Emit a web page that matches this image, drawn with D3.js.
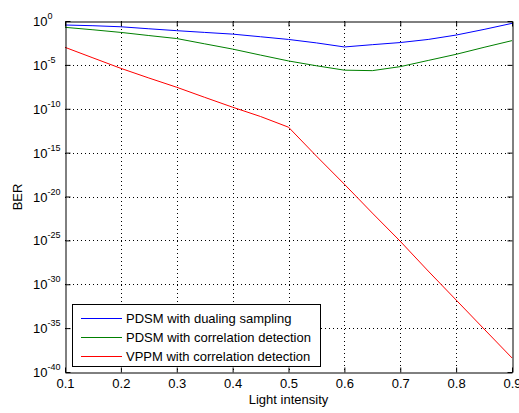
<!DOCTYPE html>
<html>
<head>
<meta charset="utf-8">
<script src="https://cdn.jsdelivr.net/npm/d3@7"></script>
<style>
body { margin: 0; background: #fff; }
text { font-family: "Liberation Sans", Arial, sans-serif; fill: #000; }
</style>
</head>
<body>
<div id="chart"></div>
<script>
var intensity = [0.1, 0.15, 0.2, 0.25, 0.3, 0.35, 0.4, 0.45, 0.5, 0.55, 0.6, 0.65, 0.7, 0.75, 0.8, 0.85, 0.9];
var berDualing = [3.5e-1, 2.9e-1, 2.2e-1, 1.3e-1, 7.9e-2, 5.0e-2, 3.2e-2, 1.6e-2, 7.9e-3, 3.2e-3, 1.1e-3, 2.0e-3, 3.5e-3, 7.9e-3, 2.5e-2, 1.1e-1, 5.4e-1];
var berCorr = [1.9e-1, 1.0e-1, 5.0e-2, 2.2e-2, 1.0e-2, 2.5e-3, 6.3e-4, 1.3e-4, 2.8e-5, 7.9e-6, 2.5e-6, 2.2e-6, 6.3e-6, 3.2e-5, 1.6e-4, 1.0e-3, 5.8e-3];
var berVppm = [1.0e-3, 6.3e-5, 4.0e-6, 3.2e-7, 2.8e-8, 2.0e-9, 1.5e-10, 1.3e-11, 7.9e-13, 4.0e-16, 2.5e-19, 1.3e-22, 7.9e-26, 3.2e-29, 1.6e-32, 7.9e-36, 4.0e-39];
var seriesNames = ["PDSM with dualing sampling", "PDSM with correlation detection", "VPPM with correlation detection"];
var seriesColors = ["#0000ff", "#008000", "#ff0000"];
var xTicks = [0.1, 0.2, 0.3, 0.4, 0.5, 0.6, 0.7, 0.8, 0.9];
var yTickExp = [0, -5, -10, -15, -20, -25, -30, -35, -40];

var W = 519, H = 413;
var pLeft = 65, pTop = 21, pRight = 512, pBottom = 372;

var svg = d3.select("#chart").append("svg")
	.attr("width", W)
	.attr("height", H);

var x = d3.scaleLinear().domain([0.1, 0.9]).range([pLeft, pRight]);
var y = d3.scaleLog().domain([1e-40, 1]).range([pBottom, pTop]);

// grid
xTicks.slice(1, -1).forEach(function(t) {
	var xx = Math.round(x(t)) + 0.5;
	svg.append("line")
		.attr("x1", xx).attr("x2", xx)
		.attr("y1", pTop).attr("y2", pBottom)
		.style("stroke", "#000").style("stroke-width", 1)
		.style("stroke-dasharray", "1,3");
});
yTickExp.slice(1, -1).forEach(function(e) {
	var yy = Math.round(y(Math.pow(10, e))) + 0.5;
	svg.append("line")
		.attr("x1", pLeft).attr("x2", pRight)
		.attr("y1", yy).attr("y2", yy)
		.style("stroke", "#000").style("stroke-width", 1)
		.style("stroke-dasharray", "1,3");
});

// curves
var allSeries = [berDualing, berCorr, berVppm];
var line = d3.line()
	.x(function(d) { return x(d[0]); })
	.y(function(d) { return y(d[1]); });
allSeries.forEach(function(s, i) {
	svg.append("path")
		.datum(intensity.map(function(v, j) { return [v, s[j]]; }))
		.attr("d", line)
		.style("fill", "none")
		.style("stroke", seriesColors[i])
		.style("stroke-width", 1);
});

// axes (box with inner ticks on all sides)
var yVals = yTickExp.map(function(e) { return Math.pow(10, e); });
var gB = svg.append("g").attr("transform", "translate(0," + (pBottom + 0.5) + ")")
	.call(d3.axisBottom(x).tickValues(xTicks).tickSizeInner(-5).tickSizeOuter(0).tickPadding(6)
		.tickFormat(d3.format(".1f")));
var gT = svg.append("g").attr("transform", "translate(0," + (pTop + 0.5) + ")")
	.call(d3.axisTop(x).tickValues(xTicks).tickSizeInner(-5).tickSizeOuter(0).tickFormat(""));
var gL = svg.append("g").attr("transform", "translate(" + (pLeft + 0.5) + ",0)")
	.call(d3.axisLeft(y).tickValues(yVals).tickSizeInner(-5).tickSizeOuter(0).tickFormat(""));
var gR = svg.append("g").attr("transform", "translate(" + (pRight + 0.5) + ",0)")
	.call(d3.axisRight(y).tickValues(yVals).tickSizeInner(-5).tickSizeOuter(0).tickFormat(""));
[gB, gT, gL, gR].forEach(function(g) {
	g.selectAll("path").style("stroke", "#000");
	g.selectAll("line").style("stroke", "#000");
});
gB.selectAll("text").style("font-size", "13px").style("fill", "#000")
	.style("font-family", "'Liberation Sans', Arial, sans-serif");

// y tick labels 10^n
yTickExp.forEach(function(e) {
	var yy = y(Math.pow(10, e));
	var t = svg.append("text")
		.attr("x", 33)
		.attr("y", yy + 5)
		.style("font-size", "13px");
	t.append("tspan").text("10");
	t.append("tspan").attr("dy", -7).style("font-size", "9px").text(String(e));
});

// axis labels
svg.append("text")
	.attr("x", (pLeft + pRight) / 2)
	.attr("y", 404)
	.attr("text-anchor", "middle")
	.style("font-size", "13px")
	.text("Light intensity");
svg.append("text")
	.attr("transform", "translate(22,197) rotate(-90)")
	.attr("text-anchor", "middle")
	.style("font-size", "13px")
	.text("BER");

// legend
var lg = svg.append("g");
lg.append("rect")
	.attr("x", 72.5).attr("y", 304.5)
	.attr("width", 248).attr("height", 62)
	.style("fill", "#fff").style("stroke", "#000").style("stroke-width", 1);
seriesNames.forEach(function(n, i) {
	var yy = 318 + i * 19;
	lg.append("line")
		.attr("x1", 81).attr("x2", 122)
		.attr("y1", yy + 0.5).attr("y2", yy + 0.5)
		.style("stroke", seriesColors[i]).style("stroke-width", 1);
	lg.append("text")
		.attr("x", 126).attr("y", yy + 5)
		.style("font-size", "13px")
		.text(n);
});
</script>
</body>
</html>
